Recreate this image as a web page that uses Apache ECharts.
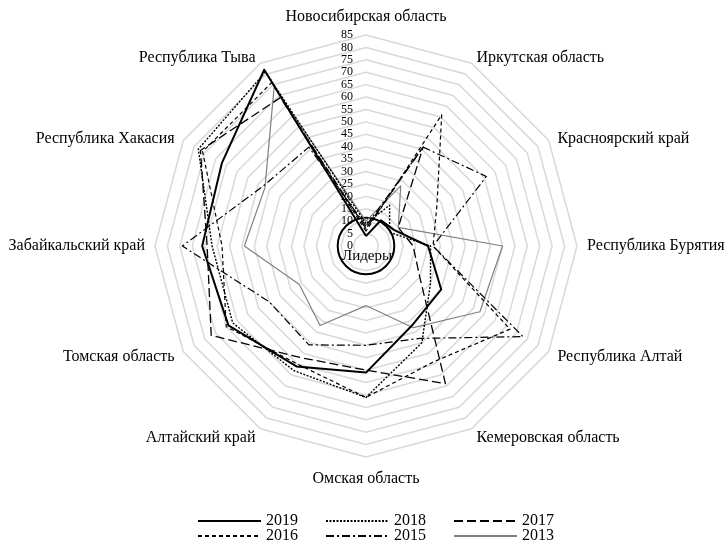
<!DOCTYPE html>
<html>
<head>
<meta charset="utf-8">
<script src="https://cdn.jsdelivr.net/npm/echarts@6/dist/echarts.min.js"></script>
<style>
html, body { margin: 0; padding: 0; background: #fff; }
#main { width: 727px; height: 544px; }
</style>
</head>
<body>
<div id="main"></div>
<script>
// regions, clockwise from the top
var regions = ['Новосибирская область', 'Иркутская область', 'Красноярский край', 'Республика Бурятия',
    'Республика Алтай', 'Кемеровская область', 'Омская область', 'Алтайский край',
    'Томская область', 'Забайкальский край', 'Республика Хакасия', 'Республика Тыва'];

var years = ['2019', '2018', '2017', '2016', '2015', '2013'];

var v2019 = [4, 12, 13, 25, 35, 37, 51, 56, 64, 66, 67, 82];
var v2018 = [9, 19, 11, 26, 30, 45, 61, 58, 62, 62, 78, 81];
var v2017 = [7, 46, 15, 19, 25, 64, 50, 52, 72, 64, 77, 69];
var v2016 = [6, 61, 33, 27, 67, 54, 61, 55, 65, 58, 76, 76];
var v2015 = [8, 46, 56, 27, 73, 43, 40, 46, 45, 74, 48, 46];
var v2013 = [10, 28, 15, 55, 53, 38, 24, 37, 31, 49, 47, 74];

var axisMin = 0;
var axisMax = 85;
var axisStep = 5;
var leadersLevel = 11.4;   // "Лидеры" circle

var values = [v2019, v2018, v2017, v2016, v2015, v2013];

var font = 'Liberation Serif';
var cx = 366, cy = 246, R = 211;

var styles = [
    { color: '#000', width: 2, type: 'solid' },
    { color: '#000', width: 1.4, type: [2, 1.5] },
    { color: '#000', width: 1.3, type: [9, 4] },
    { color: '#000', width: 1.2, type: [4, 3] },
    { color: '#000', width: 1.2, type: [8, 3, 2, 3] },
    { color: '#808080', width: 1.2, type: 'solid' }
];

// echarts goes counter-clockwise, the picture goes clockwise
var order = [0, 11, 10, 9, 8, 7, 6, 5, 4, 3, 2, 1];
function ccw(arr) {
    return order.map(function(i) { return arr[i]; });
}

// small vertical nudges of the region names (rich padding on top)
var namePad = {
    'Иркутская область': 't', 'Республика Тыва': 't',
    'Красноярский край': 't', 'Республика Хакасия': 't',
    'Омская область': 'b'
};

var chart = echarts.init(document.getElementById('main'));

var series = [];
// dummy line series only for the legend icons
years.forEach(function(y, i) {
    series.push({
        type: 'line', name: y, data: [], symbol: 'none',
        lineStyle: styles[i],
        itemStyle: { color: styles[i].color, opacity: 0, borderWidth: 0 }
    });
});
years.forEach(function(y, i) {
    series.push({
        type: 'radar', radarIndex: 0, name: y, symbol: 'none', silent: true,
        lineStyle: styles[i], itemStyle: { color: styles[i].color },
        z: 10 - i,
        data: [{ name: y, value: ccw(values[i]) }]
    });
});

var legendText = { color: '#000', fontFamily: font, fontSize: 16 };

chart.setOption({
    animation: false,
    grid: { show: false, left: 0, top: 0, width: 10, height: 10 },
    xAxis: { show: false, type: 'value' },
    yAxis: { show: false, type: 'value' },
    radar: [{
        center: [cx, cy],
        radius: R,
        startAngle: 90,
        splitNumber: (axisMax - axisMin) / axisStep,
        nameGap: 10,
        indicator: ccw(regions).map(function(n, i) {
            var o = { name: n, min: axisMin, max: axisMax };
            if (i === 0) o.axisLabel = { show: true };
            return o;
        }),
        axisName: {
            color: '#000', fontFamily: font, fontSize: 16,
            formatter: function(name) {
                return namePad[name] ? '{' + namePad[name] + '|' + name + '}' : name;
            },
            rich: {
                t: { fontFamily: font, fontSize: 16, color: '#000', padding: [7, 0, 0, 0] },
                b: { fontFamily: font, fontSize: 16, color: '#000', padding: [4, 0, 0, 0] }
            }
        },
        axisLine: { show: false },
        axisTick: { show: false },
        axisLabel: { show: false, color: '#000', fontFamily: font, fontSize: 12, margin: 13 },
        splitLine: { lineStyle: { color: '#d9d9d9', width: 1.5 } },
        splitArea: { show: false }
    }, {
        center: [cx, cy],
        radius: R * leadersLevel / axisMax,
        shape: 'circle',
        splitNumber: 1,
        indicator: regions.map(function() { return { name: '', max: 1 }; }),
        axisName: { show: false },
        axisLine: { show: false },
        axisTick: { show: false },
        axisLabel: { show: false },
        splitLine: { lineStyle: { color: '#000', width: 2 } },
        splitArea: { show: false }
    }],
    legend: [{
        data: years.slice(0, 3), left: 197, top: 513, padding: 0,
        itemWidth: 63, itemHeight: 14, itemGap: 27,
        selectedMode: false, textStyle: legendText
    }, {
        data: years.slice(3), left: 197, top: 528, padding: 0,
        itemWidth: 63, itemHeight: 14, itemGap: 27,
        selectedMode: false, textStyle: legendText
    }],
    graphic: [{
        type: 'text', x: cx + 1, y: cy + 10, z: 100,
        style: {
            text: 'Лидеры', font: '15px "Liberation Serif"', fill: '#000',
            textAlign: 'center', textVerticalAlign: 'middle',
            align: 'center', verticalAlign: 'middle'
        }
    }],
    series: series
});
</script>
</body>
</html>
